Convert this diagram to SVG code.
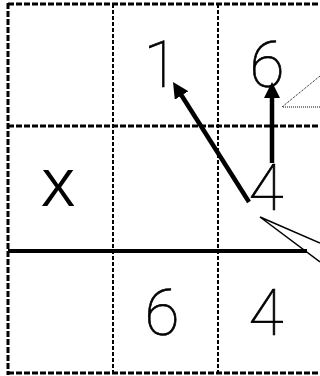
<svg xmlns="http://www.w3.org/2000/svg" width="320" height="376" viewBox="0 0 320 376">
  <style>
    .border { fill: none; stroke: #000; stroke-width: 3; stroke-dasharray: 6 2; }
    .inner { fill: none; stroke: #000; stroke-width: 2; stroke-dasharray: 4 2; }
    .digit { font-family: Roboto, "Liberation Sans", sans-serif; font-weight: 100; font-size: 64px; fill: #000; stroke: #000; stroke-width: 0.7; text-anchor: middle; }
    .mark { font-family: "Liberation Sans", sans-serif; font-size: 52px; fill: #000; text-anchor: middle; }
    .arrow { fill: none; stroke: #000; stroke-width: 4.5; marker-end: url(#head); }
    .callout { fill: none; stroke: #000; stroke-width: 1.5; }
    .callout-dot { fill: none; stroke: #000; stroke-width: 1; stroke-dasharray: 1 1; }
  </style>
  <defs>
    <marker id="head" viewBox="0 0 16 16" refX="2" refY="8" markerWidth="16" markerHeight="16" markerUnits="userSpaceOnUse" orient="auto">
      <path d="M0,0 L16,8 L0,16 z" fill="#000"/>
    </marker>
  </defs>
  <rect width="320" height="376" fill="#fff"/>
  <g id="grid">
    <line class="inner" x1="113" y1="4" x2="113" y2="374"/>
    <line class="inner" x1="218" y1="4" x2="218" y2="374"/>
    <line class="border" x1="8" y1="4" x2="320" y2="4"/>
    <line class="border" x1="8" y1="126" x2="320" y2="126"/>
    <line class="border" x1="8" y1="373" x2="320" y2="373"/>
    <line class="border" x1="8" y1="3" x2="8" y2="375"/>
    <line x1="8" y1="251" x2="307" y2="251" stroke="#000" stroke-width="4"/>
  </g>
  <g id="cell-x"><text class="mark" x="58" y="206">X</text></g>
  <g id="cell-1"><text class="digit" x="161" y="87">1</text></g>
  <g id="cell-6-top"><text class="digit" x="267" y="87">6</text></g>
  <g id="cell-4-mid"><text class="digit" x="266" y="210">4</text></g>
  <g id="cell-6-bottom"><text class="digit" x="162" y="335">6</text></g>
  <g id="cell-4-bottom"><text class="digit" x="266" y="335">4</text></g>
  <g id="connectors">
    <line class="arrow" x1="249" y1="202" x2="180.5" y2="93.8"/>
    <line class="arrow" x1="272" y1="163" x2="272" y2="96"/>
    <polyline class="callout-dot" points="320,76 282,107 320,107"/>
    <polyline class="callout" points="320,243 260,217 320,262"/>
  </g>
</svg>
